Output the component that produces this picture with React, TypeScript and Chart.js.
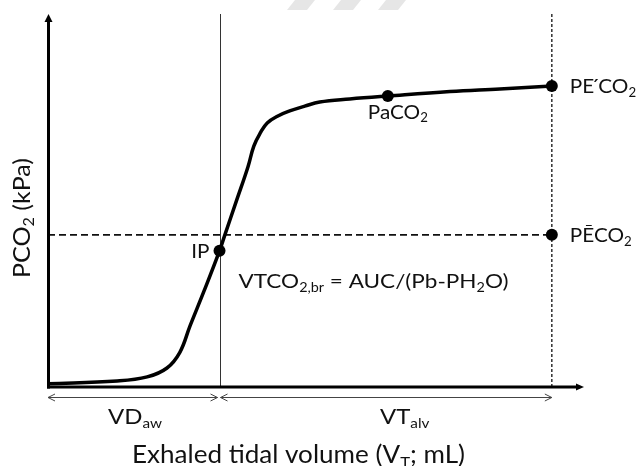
import React, { useEffect, useRef } from "react";
import { Chart, registerables } from "chart.js";

Chart.register(...registerables);

// ---- Data ----
const volumeML = [0, 12.9, 18.5, 22.2, 24.6, 26.5, 29.1, 32.0, 33.0, 35.2, 37.3, 38.4, 39.6, 40.9, 42.8, 45.1, 47.9, 50.7, 56.3, 63.4, 75.0, 84.3, 94.0];
const pco2KPa = [0.09, 0.16, 0.27, 0.51, 0.93, 1.64, 2.57, 3.65, 4.08, 5.01, 5.90, 6.46, 6.81, 7.08, 7.26, 7.40, 7.53, 7.64, 7.72, 7.80, 7.92, 7.99, 8.07];

const markerKeys = ["IP", "PaCO2", "PEtCO2", "PEbarCO2"];
const markerVolume = [32.0, 63.4, 94.0, 94.0];
const markerPCO2 = [3.65, 7.80, 8.07, 4.08];

const inflectionVolume = 32.0;
const endVolume = 94.0;
const meanExpiredPCO2 = 4.08;
const axisMaxVolume = 100;
const axisMaxPCO2 = 10;

type Part = { t: string; sub?: boolean; dx?: number };

const yTitle: Part[] = [{ t: "PCO" }, { t: "2", sub: true }, { t: " (kPa)" }];
const xTitle: Part[] = [{ t: "Exhaled tidal volume (V" }, { t: "T", sub: true }, { t: "; mL)" }];
const vdLabel: Part[] = [{ t: "VD" }, { t: "aw", sub: true }];
const vtLabel: Part[] = [{ t: "VT" }, { t: "alv", sub: true }];
const formulaLabel: Part[] = [
  { t: "VTCO" }, { t: "2,br", sub: true }, { t: " = AUC/(Pb-PH" }, { t: "2", sub: true }, { t: "O)" },
];
const markerLabels: Record<string, Part[]> = {
  IP: [{ t: "IP" }],
  PaCO2: [{ t: "PaCO" }, { t: "2", sub: true }],
  PEtCO2: [{ t: "PE" }, { t: "\u00B4", dx: -3 }, { t: "CO", dx: -1 }, { t: "2", sub: true }],
  PEbarCO2: [{ t: "P\u0112CO" }, { t: "2", sub: true }],
};

const FAMILY = "Lato, 'Open Sans', sans-serif";
const SUB = 0.64;

function font(size: number) {
  return `${size}px ${FAMILY}`;
}
function richWidth(ctx: CanvasRenderingContext2D, parts: Part[], size: number) {
  let w = 0;
  for (const p of parts) {
    ctx.font = font(p.sub ? size * SUB : size);
    w += ctx.measureText(p.t).width + (p.dx || 0);
  }
  return w;
}
function drawRich(
  ctx: CanvasRenderingContext2D,
  parts: Part[],
  x: number,
  y: number,
  size: number,
  sx = 1
) {
  ctx.save();
  ctx.translate(x, y);
  ctx.scale(sx, 1);
  let cx = 0;
  ctx.textAlign = "left";
  ctx.textBaseline = "alphabetic";
  for (const p of parts) {
    const s = p.sub ? size * SUB : size;
    ctx.font = font(s);
    cx += p.dx || 0;
    ctx.fillText(p.t, cx, p.sub ? size * 0.2 : 0);
    cx += ctx.measureText(p.t).width;
  }
  ctx.restore();
}
function squeeze(ctx: CanvasRenderingContext2D, parts: Part[], size: number, width: number) {
  return width / richWidth(ctx, parts, size);
}

function line(ctx: CanvasRenderingContext2D, x1: number, y1: number, x2: number, y2: number) {
  ctx.beginPath();
  ctx.moveTo(x1, y1);
  ctx.lineTo(x2, y2);
  ctx.stroke();
}

function doubleArrow(ctx: CanvasRenderingContext2D, x1: number, x2: number, y: number) {
  line(ctx, x1, y, x2, y);
  ctx.beginPath();
  ctx.moveTo(x1 + 7, y - 3.5);
  ctx.lineTo(x1, y);
  ctx.lineTo(x1 + 7, y + 3.5);
  ctx.moveTo(x2 - 7, y - 3.5);
  ctx.lineTo(x2, y);
  ctx.lineTo(x2 - 7, y + 3.5);
  ctx.stroke();
}

const diagramPlugin = {
  id: "diagram",
  beforeDatasetsDraw(chart: any) {
    const ctx: CanvasRenderingContext2D = chart.ctx;
    const { x, y } = chart.scales;
    const x0 = x.getPixelForValue(0);
    const y0 = y.getPixelForValue(0);
    const yTop = y.getPixelForValue(axisMaxPCO2);
    const xMax = x.getPixelForValue(axisMaxVolume);
    const xIP = x.getPixelForValue(inflectionVolume);
    const xEnd = x.getPixelForValue(endVolume);
    const yMean = y.getPixelForValue(meanExpiredPCO2);

    ctx.save();
    // faint watermark at the top edge
    ctx.fillStyle = "#e6e6e6";
    for (const bx of [287, 333, 378]) {
      ctx.beginPath();
      ctx.moveTo(bx, 10);
      ctx.lineTo(bx + 20, 10);
      ctx.lineTo(bx + 28, 0);
      ctx.lineTo(bx + 8, 0);
      ctx.closePath();
      ctx.fill();
    }

    // thin solid vertical line at IP
    ctx.strokeStyle = "#333";
    ctx.lineWidth = 1;
    line(ctx, Math.round(xIP) + 0.5, yTop, Math.round(xIP) + 0.5, y0);

    // dashed vertical at end of expiration
    ctx.strokeStyle = "#111";
    ctx.lineWidth = 1.3;
    ctx.setLineDash([3, 2]);
    line(ctx, xEnd, yTop, xEnd, y0);

    // dashed horizontal at mean expired PCO2
    ctx.lineWidth = 1.8;
    ctx.setLineDash([7, 4]);
    line(ctx, x0, yMean, xEnd, yMean);
    ctx.setLineDash([]);

    // axes with arrowheads
    ctx.strokeStyle = "#000";
    ctx.fillStyle = "#000";
    ctx.lineWidth = 3;
    line(ctx, x0 + 0.5, y0 + 1.5, x0 + 0.5, yTop + 6);
    ctx.beginPath();
    ctx.moveTo(x0 + 0.5, yTop);
    ctx.lineTo(x0 - 3.5, yTop + 8);
    ctx.lineTo(x0 + 4.5, yTop + 8);
    ctx.closePath();
    ctx.fill();
    line(ctx, x0 - 1, y0, xMax - 6, y0);
    ctx.beginPath();
    ctx.moveTo(xMax, y0);
    ctx.lineTo(xMax - 8, y0 - 3.5);
    ctx.lineTo(xMax - 8, y0 + 3.5);
    ctx.closePath();
    ctx.fill();

    // double arrows below axis
    ctx.strokeStyle = "#444";
    ctx.lineWidth = 1;
    const ay = y0 + 10.5;
    doubleArrow(ctx, x0, xIP - 2, ay);
    doubleArrow(ctx, xIP + 1, xEnd, ay);
    ctx.restore();
  },
  afterDatasetsDraw(chart: any) {
    const ctx: CanvasRenderingContext2D = chart.ctx;
    const { x, y } = chart.scales;
    const y0 = y.getPixelForValue(0);
    ctx.save();
    ctx.fillStyle = "#111";

    // marker labels
    const labelSize = 19.5;
    const labelSx = squeeze(ctx, markerLabels.PaCO2, labelSize, 60);
    markerKeys.forEach((k, i) => {
      const px = x.getPixelForValue(markerVolume[i]);
      const py = y.getPixelForValue(markerPCO2[i]);
      const parts = markerLabels[k];
      if (k === "IP") {
        const w = richWidth(ctx, parts, labelSize) * labelSx;
        drawRich(ctx, parts, px - 10 - w, py + 7, labelSize, labelSx);
      } else if (k === "PaCO2") {
        drawRich(ctx, parts, px - 20, py + 22.5, labelSize, labelSx);
      } else {
        drawRich(ctx, parts, px + 18, py + 7.5, labelSize, labelSx);
      }
    });

    // formula
    const xIP = x.getPixelForValue(inflectionVolume);
    const yIP = y.getPixelForValue(markerPCO2[0]);
    const fSize = 19.5;
    drawRich(ctx, formulaLabel, xIP + 19, yIP + 37, fSize, squeeze(ctx, formulaLabel, fSize, 270));

    // segment labels under the axis
    const segSize = 21.5;
    const segSx = squeeze(ctx, vdLabel, segSize, 54);
    drawRich(ctx, vdLabel, 108, y0 + 37, segSize, segSx);
    drawRich(ctx, vtLabel, 380, y0 + 37, segSize, segSx);

    // axis titles
    const xtSize = 25;
    drawRich(ctx, xTitle, 132, y0 + 75.5, xtSize, squeeze(ctx, xTitle, xtSize, 333));

    const ytSize = 22.5;
    ctx.translate(29.5, 278);
    ctx.rotate(-Math.PI / 2);
    drawRich(ctx, yTitle, 0, 0, ytSize, squeeze(ctx, yTitle, ytSize, 120));
    ctx.restore();
  },
};

export default function App() {
  const ref = useRef<HTMLCanvasElement | null>(null);

  useEffect(() => {
    if (!ref.current) return;
    const curve = volumeML.map((v, i) => ({ x: v, y: pco2KPa[i] }));
    const markers = markerVolume.map((v, i) => ({ x: v, y: markerPCO2[i] }));
    const chart = new Chart(ref.current, {
      type: "line",
      data: {
        datasets: [
          {
            label: "PCO2",
            data: curve,
            borderColor: "#000",
            borderWidth: 3.5,
            pointRadius: 0,
            tension: 0.4,
            borderCapStyle: "round",
            borderJoinStyle: "round",
            fill: false,
          } as any,
          {
            label: "markers",
            data: markers,
            showLine: false,
            pointRadius: 6,
            pointBackgroundColor: "#000",
            pointBorderColor: "#000",
            pointBorderWidth: 0,
          } as any,
        ],
      },
      options: {
        responsive: false,
        animation: false,
        devicePixelRatio: 1,
        layout: { padding: { left: 48, right: 52, top: 14, bottom: 79 } },
        plugins: { legend: { display: false }, tooltip: { enabled: false } },
        events: [],
        scales: {
          x: { type: "linear", min: 0, max: axisMaxVolume, display: false },
          y: { type: "linear", min: 0, max: axisMaxPCO2, display: false },
        },
      },
      plugins: [diagramPlugin],
    });
    return () => chart.destroy();
  }, []);

  return (
    <div style={{ position: "fixed", left: 0, top: 0, width: 636, height: 466, background: "#fff" }}>
      <canvas ref={ref} width={636} height={466} style={{ width: 636, height: 466 }} />
    </div>
  );
}
